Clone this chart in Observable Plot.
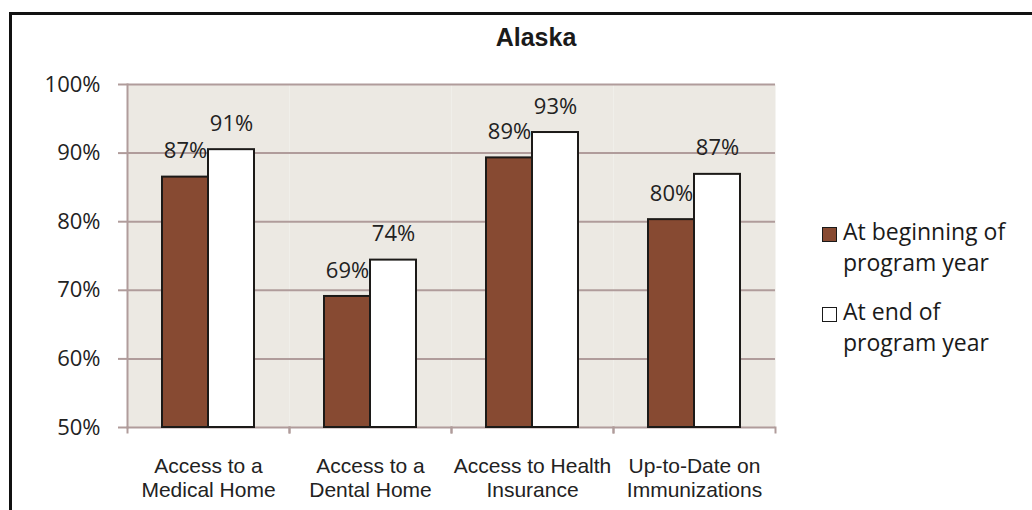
<!DOCTYPE html>
<html><head><meta charset="utf-8">
<script src="https://cdn.jsdelivr.net/npm/d3@7"></script>
<script src="https://cdn.jsdelivr.net/npm/@observablehq/plot@0.6"></script>
<style>
body{margin:0;background:#fff;}
#wrap{position:relative;width:1032px;height:510px;overflow:hidden;background:#fff;}
#border{position:absolute;left:9px;top:12px;width:1100px;height:600px;border:3px solid #111;box-sizing:border-box;}
#chart{position:absolute;left:0;top:0;}
#title{position:absolute;top:25px;left:386px;width:300px;text-align:center;font:bold 25px/25px "Liberation Sans",Arial,sans-serif;color:#1a1a1a;}
#legend{position:absolute;left:822px;top:216px;font:23px/31px "Open Sans",sans-serif;color:#1a1a1a;}
.item{display:flex;align-items:flex-start;margin-bottom:18px;}
.sw{width:15px;height:15px;box-sizing:border-box;border:1.5px solid #1a1a1a;margin-top:11px;margin-right:6px;flex:none;}
.lab{width:190px;}
</style></head>
<body><div id="wrap"><div id="border"></div><div id="chart"></div><div id="title"></div><div id="legend"></div></div>
<script>
const title = "Alaska";
const categories = ["Access to a\nMedical Home","Access to a\nDental Home","Access to Health\nInsurance","Up-to-Date on\nImmunizations"];
const series = ["At beginning of program year","At end of program year"];
const beginning = [86.5, 69.1, 89.3, 80.3];
const end = [90.5, 74.4, 93.0, 86.9];
const yTicks = [50,60,70,80,90,100];
const colors = ["#874a32","#ffffff"];

const rows = categories.flatMap((c,i)=>[
  {cat:c, s:series[0], v:beginning[i]},
  {cat:c, s:series[1], v:end[i]}
]);
const grid = "#b09c9b";
const yMin = yTicks[0], yMax = yTicks[yTicks.length-1];

const plot = Plot.plot({
  width:1032, height:510, marginLeft:127, marginRight:257, marginTop:84, marginBottom:83,
  style:{fontFamily:'"Open Sans", sans-serif', fontSize:"22px", background:"transparent", color:"#222"},
  fx:{domain:categories, padding:0, axis:null, label:null},
  x:{domain:series, paddingInner:0, paddingOuter:0.73, axis:null, label:null},
  y:{domain:[yMin,yMax], axis:null, label:null},
  color:{domain:series, range:colors},
  marks:[
    Plot.frame({fill:"#ece9e3"}),
    Plot.ruleY(yTicks, {stroke:grid, strokeWidth:2}),
    Plot.frame({anchor:"left", facet:"super", stroke:grid, strokeWidth:2}),
    Plot.frame({anchor:"left", stroke:grid, strokeWidth:2, insetTop:343, insetBottom:-5}),
    Plot.frame({anchor:"right", stroke:grid, strokeWidth:2, insetTop:343, insetBottom:-5}),
    Plot.axisY({ticks:yTicks, tickFormat:d=>d+"%", tickSize:9, tickPadding:18, stroke:grid, strokeWidth:2, color:"#222", label:null}),
    Plot.barY(rows, {fx:"cat", x:"s", y1:yMin, y2:"v", fill:"s", stroke:"#1c1a18", strokeWidth:2}),
    Plot.text(rows, {fx:"cat", x:"s", y:"v", text:d=>Math.round(d.v)+"%", dy:-26, fill:"#222"}),
    Plot.axisFx({anchor:"bottom", tickSize:0, tickPadding:28, fontFamily:'"Liberation Sans", Arial, sans-serif', fontSize:21, lineHeight:1.15, color:"#222", label:null})
  ]
});
document.getElementById("chart").appendChild(plot);
document.getElementById("title").textContent = title;
const lg = document.getElementById("legend");
series.forEach((s,i)=>{
  const it = document.createElement("div"); it.className="item";
  const sw = document.createElement("div"); sw.className="sw"; sw.style.background=colors[i];
  const lb = document.createElement("div"); lb.className="lab"; lb.textContent=s;
  it.appendChild(sw); it.appendChild(lb); lg.appendChild(it);
});
</script></body></html>
